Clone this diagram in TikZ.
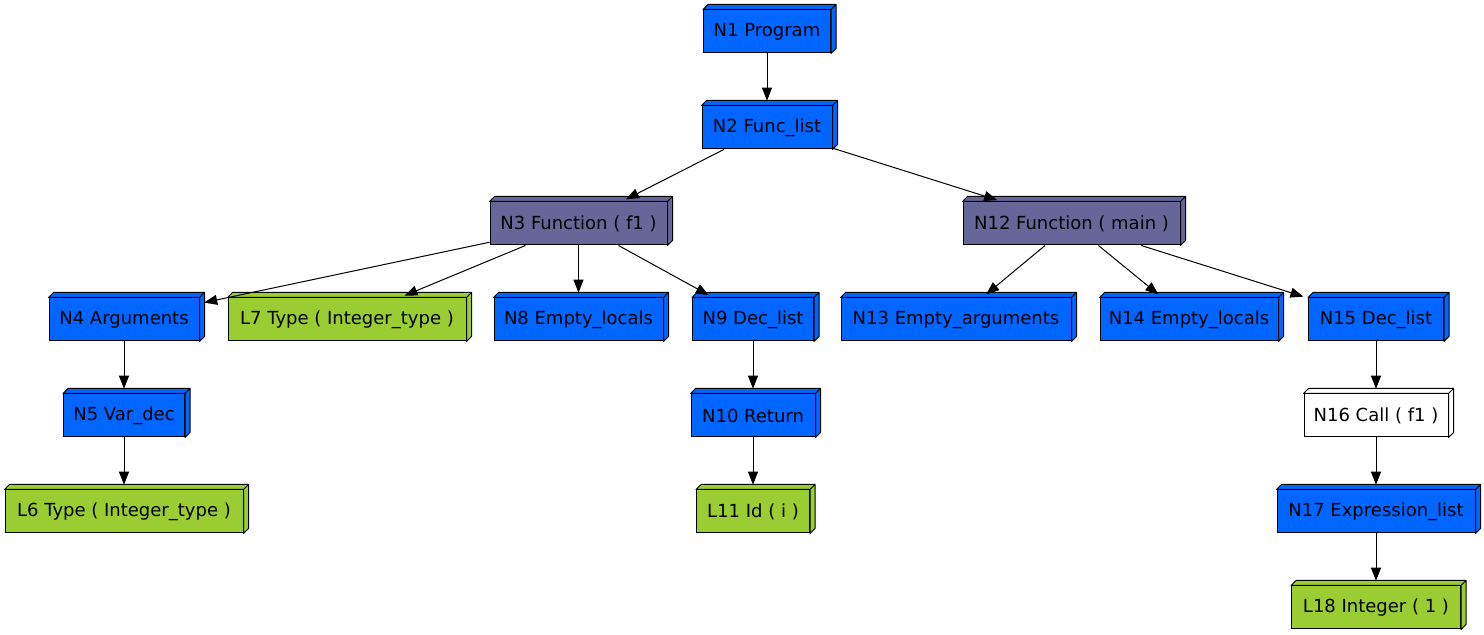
\documentclass[tikz,border=0pt]{standalone}
\usepackage{fontspec}
\setmainfont{DejaVu Sans}
\usepackage{tikz}
\usetikzlibrary{arrows.meta,calc}
\definecolor{nodeblue}{HTML}{0066FF}
\definecolor{funcgray}{HTML}{666699}
\definecolor{leafgreen}{HTML}{9ACD32}
\tikzset{
  box/.style={draw, fill=#1, line width=0.5pt, minimum height=21.5pt, inner sep=0pt,
    font=\fontsize{9}{11}\selectfont},
  edge/.style={draw, line width=0.5pt, -{Triangle[length=6.5pt,width=5pt]}, shorten >=2.4pt}
}

\begin{document}
\begin{tikzpicture}[x=0.5pt, y=-0.5pt]
        \useasboundingbox (0,0) rectangle (1484,635);
        \begin{scope}
          \def\depth{2.5pt}

          \node[box=nodeblue, minimum width=63.5pt] (n1) at (767,31.5) {N1 Program};
          \node[box=nodeblue, minimum width=65pt] (n2) at (767,127.5) {N2 Func\_list};
          \node[box=funcgray, minimum width=88.5pt] (n3) at (578.5,223.5) {N3 Function ( f1 )};
          \node[box=funcgray, minimum width=108.5pt] (n12) at (1071.5,223.5) {N12 Function ( main )};
          \node[box=nodeblue, minimum width=75pt] (n4) at (124,319.5) {N4 Arguments};
          \node[box=leafgreen, minimum width=119pt] (l7) at (347,319.5) {L7 Type ( Integer\_type )};
          \node[box=nodeblue, minimum width=84.5pt] (n8) at (578.5,319.5) {N8 Empty\_locals};
          \node[box=nodeblue, minimum width=60.5pt] (n9) at (753,319.5) {N9 Dec\_list};
          \node[box=nodeblue, minimum width=115pt] (n13) at (956,319.5) {N13 Empty\_arguments};
          \node[box=nodeblue, minimum width=89pt] (n14) at (1189,319.5) {N14 Empty\_locals};
          \node[box=nodeblue, minimum width=67.5pt] (n15) at (1376,319.5) {N15 Dec\_list};
          \node[box=nodeblue, minimum width=60.5pt] (n5) at (124,415.5) {N5 Var\_dec};
          \node[box=nodeblue, minimum width=62pt] (n10) at (753,415.5) {N10 Return};
          \node[box=white, minimum width=72pt] (n16) at (1376,415.5) {N16 Call ( f1 )};
          \node[box=leafgreen, minimum width=119pt] (l6) at (124,511.5) {L6 Type ( Integer\_type )};
          \node[box=leafgreen, minimum width=56.5pt] (l11) at (753,511.5) {L11 Id ( i )};
          \node[box=nodeblue, minimum width=99pt] (n17) at (1376,511.5) {N17 Expression\_list};
          \node[box=leafgreen, minimum width=84.5pt] (l18) at (1376,607.5) {L18 Integer ( 1 )};

          \foreach \n/\c in {n1/nodeblue, n2/nodeblue, n3/funcgray, n12/funcgray, n4/nodeblue,
                             l7/leafgreen, n8/nodeblue, n9/nodeblue, n13/nodeblue, n14/nodeblue,
                             n15/nodeblue, n5/nodeblue, n10/nodeblue, n16/white, l6/leafgreen,
                             l11/leafgreen, n17/nodeblue, l18/leafgreen} {
            \draw[fill=\c, line width=0.5pt, line join=round] (\n.north west) -- ++(\depth,\depth)
              -- ($(\n.north east)+(\depth,\depth)$) -- ($(\n.south east)+(\depth,\depth)$)
              -- (\n.south east) -- (\n.north east) -- cycle
              (\n.north east) -- ++(\depth,\depth);
          }
        \end{scope}
        \begin{scope}
          \foreach \a/\b in {n1/n2, n2/n3, n2/n12, n3/n4, n3/l7, n3/n8, n3/n9, n4/n5, n5/l6,
                             n9/n10, n10/l11, n12/n13, n12/n14, n12/n15, n15/n16, n16/n17, n17/l18}
            \path[edge] (\a) -- (\b);
        \end{scope}
      \end{tikzpicture}
\end{document}
